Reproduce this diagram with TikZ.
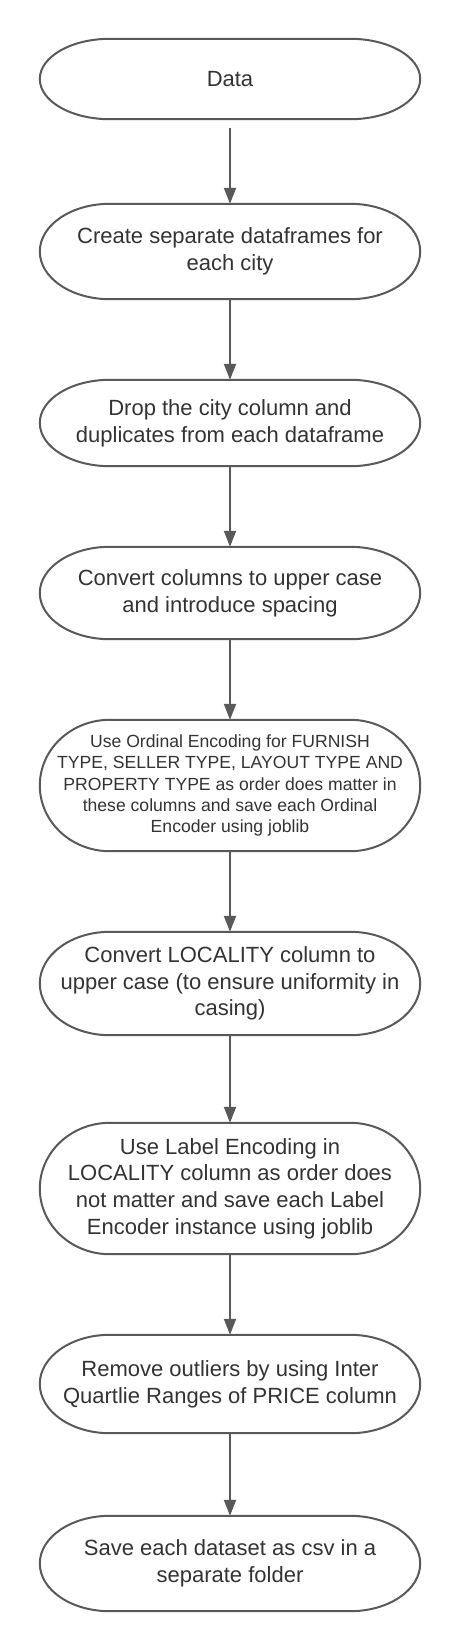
\documentclass[tikz,border=0pt]{standalone}
\usepackage{fontspec}
\setmainfont{Liberation Sans}
\usepackage{xcolor}
\usepackage{tikz}
\usetikzlibrary{arrows.meta, positioning, calc}

\definecolor{edgegray}{HTML}{595959}
\definecolor{textgray}{HTML}{333333}

\tikzset{
    stepbox/.style={inner sep=0pt, minimum width=380pt, align=center, text=textgray,
        font=\fontsize{22pt}{26.7pt}\selectfont},
    smalltext/.style={font=\fontsize{17.6pt}{21.2pt}\selectfont},
    outline/.style={draw=edgegray, line width=2pt},
    flow/.style={draw=edgegray, line width=2pt, -{Triangle[width=12pt, length=16pt]}}
}

\begin{document}
\begin{tikzpicture}
    \useasboundingbox (0,0) rectangle (460pt,-1652pt);

    % Steps of the pipeline, top to bottom
    \node[stepbox, minimum height=80pt] (data) at (230pt,-79pt) {Data};
    \node[stepbox, minimum height=95pt] (split) at (230pt,-251.5pt)
        {Create separate dataframes for\\each city};
    \node[stepbox, minimum height=86pt] (drop) at (230pt,-423pt)
        {Drop the city column and\\duplicates from each dataframe};
    \node[stepbox, minimum height=92pt] (upper) at (230pt,-593pt)
        {Convert columns to upper case\\and introduce spacing};
    \node[stepbox, smalltext, minimum height=131pt] (ordinal) at (230pt,-785.5pt)
        {Use Ordinal Encoding for FURNISH\\TYPE, SELLER TYPE, LAYOUT TYPE AND\\PROPERTY TYPE as order does matter in\\these columns and save each Ordinal\\Encoder using joblib};
    \node[stepbox, minimum height=103pt] (locality) at (230pt,-983.5pt)
        {Convert LOCALITY column to\\upper case (to ensure uniformity in\\casing)};
    \node[stepbox, minimum height=131pt] (label) at (230pt,-1188.5pt)
        {Use Label Encoding in\\LOCALITY column as order does\\not matter and save each Label\\Encoder instance using joblib};
    \node[stepbox, minimum height=98pt] (outliers) at (230pt,-1384pt)
        {Remove outliers by using Inter\\Quartlie Ranges of PRICE column};
    \node[stepbox, minimum height=95pt] (save) at (230pt,-1563.5pt)
        {Save each dataset as csv in a\\separate folder};

    % Rounded outlines round each step
    \foreach \nm in {data,split,drop,upper,ordinal,locality,label,outliers,save} {
        \draw[outline] let \p1 = ($(\nm.north)-(\nm.south)$) in
            ([xshift=70pt]\nm.north west) -- ([xshift=-70pt]\nm.north east)
            arc[start angle=90, end angle=-90, x radius=70pt, y radius=0.5*\y1]
            -- ([xshift=70pt]\nm.south west)
            arc[start angle=270, end angle=90, x radius=70pt, y radius=0.5*\y1]
            -- cycle;
    }

    % Arrows
    \draw[flow, shorten <=9pt] (data.south) -- (split.north);
    \draw[flow] (split.south) -- (drop.north);
    \draw[flow] (drop.south) -- (upper.north);
    \draw[flow] (upper.south) -- (ordinal.north);
    \draw[flow] (ordinal.south) -- (locality.north);
    \draw[flow] (locality.south) -- (label.north);
    \draw[flow] (label.south) -- (outliers.north);
    \draw[flow] (outliers.south) -- (save.north);
\end{tikzpicture}
\end{document}
